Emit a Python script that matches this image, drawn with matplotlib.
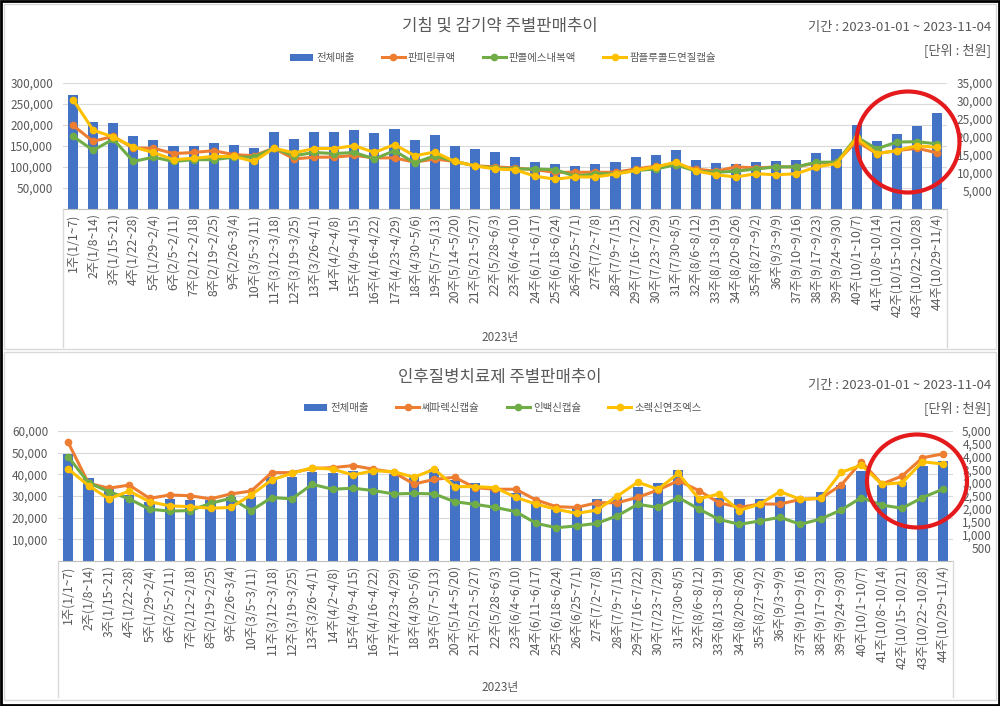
import matplotlib
matplotlib.use("Agg")
import matplotlib.pyplot as plt
from matplotlib.patches import Ellipse, Rectangle
from matplotlib.lines import Line2D
from matplotlib.ticker import FuncFormatter

plt.rcParams['font.family'] = ['Noto Sans CJK KR', 'DejaVu Sans']

weeks = ["1주(1/1~7)", "2주(1/8~14)", "3주(1/15~21)", "4주(1/22~28)", "5주(1/29~2/4)",
         "6주(2/5~2/11)", "7주(2/12~2/18)", "8주(2/19~2/25)", "9주(2/26~3/4)", "10주(3/5~3/11)",
         "11주(3/12~3/18)", "12주(3/19~3/25)", "13주(3/26~4/1)", "14주(4/2~4/8)", "15주(4/9~4/15)",
         "16주(4/16~4/22)", "17주(4/23~4/29)", "18주(4/30~5/6)", "19주(5/7~5/13)", "20주(5/14~5/20)",
         "21주(5/21~5/27)", "22주(5/28~6/3)", "23주(6/4~6/10)", "24주(6/11~6/17)", "25주(6/18~6/24)",
         "26주(6/25~7/1)", "27주(7/2~7/8)", "28주(7/9~7/15)", "29주(7/16~7/22)", "30주(7/23~7/29)",
         "31주(7/30~8/5)", "32주(8/6~8/12)", "33주(8/13~8/19)", "34주(8/20~8/26)", "35주(8/27~9/2)",
         "36주(9/3~9/9)", "37주(9/10~9/16)", "38주(9/17~9/23)", "39주(9/24~9/30)", "40주(10/1~10/7)",
         "41주(10/8~10/14)", "42주(10/15~10/21)", "43주(10/22~10/28)", "44주(10/29~11/4)"]

# ---- top chart: 기침 및 감기약 ----
top_total = [272000, 206000, 205000, 173000, 165000, 150000, 149000, 156000, 153000, 145000,
             183000, 167000, 183000, 184000, 188000, 181000, 190000, 164000, 177000, 151000,
             144000, 136000, 123000, 112000, 107000, 102000, 106000, 113000, 124000, 128000,
             141000, 117000, 110000, 106000, 111000, 114000, 117000, 133000, 144000, 199000,
             163000, 179000, 197000, 228000]
top_orange = [23200, 18800, 20200, 16900, 16900, 15400, 15700, 16200, 15100, 14800,
              16900, 13900, 14400, 14400, 14900, 14200, 14200, 13000, 13900, 13200,
              12000, 11700, 11400, 10900, 10200, 10200, 10200, 10200, 11100, 11900,
              12300, 11100, 10500, 11700, 11400, 11700, 11700, 12800, 13000, 18800,
              15400, 16200, 16900, 15600]
top_green = [20200, 16300, 19400, 13200, 14400, 13200, 13700, 13700, 14400, 14400,
             16900, 14800, 15700, 15400, 15700, 13900, 16200, 12800, 14800, 13200,
             12000, 11400, 11100, 11100, 10900, 9100, 9800, 9800, 10700, 11100,
             12300, 10500, 10200, 10500, 11100, 11700, 11700, 13000, 13000, 20000,
             16700, 18600, 18700, 18100]
top_yellow = [30400, 21900, 20000, 17200, 15700, 13700, 14100, 14600, 14600, 13200,
              16900, 15600, 16800, 16800, 17600, 15700, 17900, 14800, 15800, 13200,
              12000, 11100, 10900, 9100, 8300, 8900, 8900, 9700, 10700, 11700,
              13000, 10600, 9500, 8900, 9800, 9500, 9800, 11700, 12600, 19700,
              15400, 16200, 17600, 17100]

# ---- bottom chart: 인후질병치료제 ----
bot_total = [49200, 38200, 33500, 30500, 27400, 28500, 28200, 28200, 29400, 29700,
             38900, 38600, 41200, 40500, 41700, 41200, 40200, 39700, 42300, 37400,
             36200, 33500, 31500, 26600, 23800, 24500, 28500, 29700, 34300, 35800,
             42000, 30000, 28900, 28500, 28500, 29700, 28200, 32000, 35100, 41700,
             35100, 36600, 43800, 46300]
bot_orange = [4560, 2990, 2800, 2920, 2410, 2540, 2510, 2390, 2580, 2690,
              3400, 3400, 3560, 3590, 3670, 3530, 3410, 2960, 3140, 3220,
              2820, 2760, 2760, 2350, 2090, 2060, 2240, 2240, 2450, 2730,
              3090, 2710, 2240, 2060, 2190, 2190, 2370, 2410, 2920, 3820,
              2960, 3270, 3970, 4120]
bot_green = [4010, 3010, 2670, 2390, 1990, 1920, 1940, 2220, 2410, 1940,
             2440, 2390, 2950, 2760, 2800, 2710, 2580, 2600, 2580, 2280,
             2180, 2060, 1900, 1450, 1280, 1350, 1450, 1740, 2180, 2060,
             2440, 2000, 1600, 1410, 1540, 1680, 1410, 1620, 1960, 2440,
             2150, 2030, 2440, 2760]
bot_yellow = [3540, 2900, 2390, 2690, 2280, 2120, 2090, 2030, 2060, 2540,
              3120, 3370, 3590, 3530, 3310, 3470, 3440, 3220, 3530, 2860,
              2860, 2820, 2450, 2190, 1990, 1830, 1960, 2500, 3030, 2760,
              3370, 2390, 2580, 1940, 2190, 2670, 2370, 2410, 3410, 3690,
              2950, 3010, 3820, 3730]

top_names = ["전체매출", "판피린큐액", "판콜에스내복액", "팜플루콜드연질캡슐"]
bot_names = ["전체매출", "쎄파렉신캡슐", "인백신캡슐", "소렉신연조엑스"]

BLUE, ORANGE, GREEN, YELLOW = "#4472C4", "#ED7D31", "#70AD47", "#FFC000"
GRAY = "#595959"

W, H = 1000, 706
fig = plt.figure(figsize=(W / 100, H / 100), dpi=100)


def fx(px):
    return px / W


def fy(py):
    return 1 - py / H


def comma(v, p):
    return f"{int(v):,}"


def panel(y0, y1):
    fig.patches.append(Rectangle((fx(4), fy(y1)), fx(992), (y1 - y0) / H, transform=fig.transFigure,
                                 fill=False, edgecolor="#D9D9D9", linewidth=1.0))


def make_chart(left, right, top, base, bottom_line, total, lines, names, lmax, lstep, rmax, rstep,
               lpad, rpad, title, title_y, legend_y, info_y, year_y, ellipse):
    ax = fig.add_axes([fx(left), fy(base), fx(right - left), (base - top) / H])
    x = list(range(len(total)))
    ax.bar(x, total, width=0.5, color=BLUE, zorder=2, label=names[0])
    ax.set_xlim(-0.5, len(total) - 0.5)
    ax.set_ylim(0, lmax)
    ax.set_yticks(list(range(lstep, lmax + 1, lstep)))
    ax.yaxis.set_major_formatter(FuncFormatter(comma))
    ax.grid(axis="y", color="#D9D9D9", linewidth=0.8, zorder=0)
    for s in ["top", "right", "left"]:
        ax.spines[s].set_visible(False)
    ax.spines["bottom"].set_color("#BFBFBF")
    ax.tick_params(axis="y", length=0, pad=lpad, labelsize=8.5, labelcolor=GRAY)
    ax.set_xticks(x)
    ax.set_xticklabels(weeks, rotation=90, fontsize=8.8, color=GRAY)
    ax.tick_params(axis="x", length=0, pad=3)

    ax2 = ax.twinx()
    ax2.set_ylim(0, rmax)
    ax2.set_yticks(list(range(rstep, rmax + 1, rstep)))
    ax2.yaxis.set_major_formatter(FuncFormatter(comma))
    ax2.tick_params(axis="y", length=0, pad=rpad, labelsize=8.5, labelcolor=GRAY)
    for lab in ax2.get_yticklabels():
        lab.set_horizontalalignment("right")
    for s in ax2.spines.values():
        s.set_visible(False)
    handles = []
    for vals, col, nm in zip(lines, [ORANGE, GREEN, YELLOW], names[1:]):
        h, = ax2.plot(x, vals, color=col, linewidth=2.2, marker="o", markersize=4.5,
                      markerfacecolor=col, markeredgecolor=col, zorder=3, label=nm)
        handles.append(h)

    # category group dividers
    for px in (left, right):
        fig.lines.append(Line2D([fx(px), fx(px)], [fy(base), fy(bottom_line)], transform=fig.transFigure,
                                color="#D9D9D9", linewidth=1.0))
    fig.text(fx(500), fy(year_y), "2023년", ha="center", va="center", fontsize=8.5, color=GRAY)

    fig.text(fx(500), fy(title_y), title, ha="center", va="center", fontsize=12, color=GRAY)
    fig.text(fx(991), fy(info_y), "기간 : 2023-01-01 ~ 2023-11-04", ha="right", va="center",
             fontsize=9.5, color=GRAY)
    fig.text(fx(991), fy(info_y + 23), "[단위 : 천원]", ha="right", va="center", fontsize=9.5, color=GRAY)

    bar_h = ax.patches[0]
    fig.legend([bar_h] + handles, names, loc="center", bbox_to_anchor=(fx(503), fy(legend_y)),
               ncol=4, frameon=False, fontsize=7.5, handlelength=2.2, columnspacing=2.6,
               handletextpad=0.3, labelcolor=GRAY)

    cx, cy, ew, eh = ellipse
    fig.patches.append(Ellipse((fx(cx), fy(cy)), fx(ew), eh / H, transform=fig.transFigure,
                               fill=False, edgecolor="#E41A1C", linewidth=3.0, zorder=10))
    return ax, ax2


panel(4, 349)
panel(352, 700)

make_chart(63, 947, 83, 209, 347, top_total, [top_orange, top_green, top_yellow], top_names,
           300000, 50000, 35000, 5000, 7, 33, "기침 및 감기약 주별판매추이", 26, 58, 28, 338,
           (908, 142, 103, 101))
make_chart(58, 953, 431, 561, 697, bot_total, [bot_orange, bot_green, bot_yellow], bot_names,
           60000, 10000, 5000, 500, 7, 28, "인후질병치료제 주별판매추이", 377, 408, 386, 688,
           (917, 481, 100, 93))

fig.patches.append(Rectangle((0.001, 0.001), 0.998, 0.997, transform=fig.transFigure, fill=False,
                             edgecolor="black", linewidth=2.0))

fig.savefig("out.png", dpi=100)
